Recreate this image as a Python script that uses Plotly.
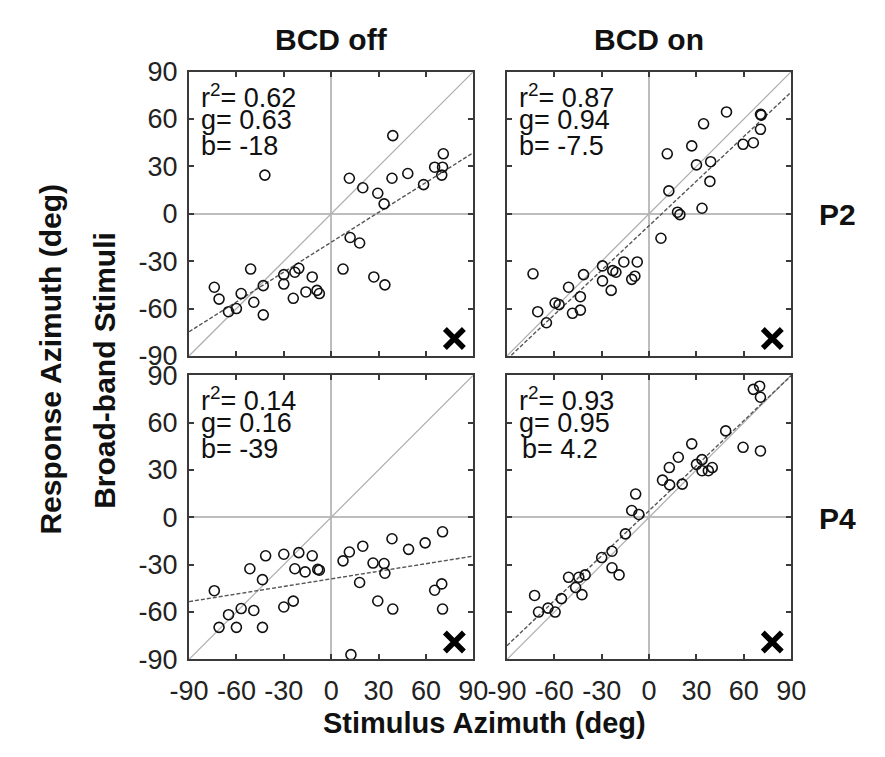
import plotly.graph_objects as go
from plotly.subplots import make_subplots

# ---------------- data ----------------
col_titles = ["BCD off", "BCD on"]
row_labels = ["P2", "P4"]
tick_vals = [-90, -60, -30, 0, 30, 60, 90]
tick_text = ["-90", "-60", "-30", "0", "30", "60", "90"]

TL_x = [-74, -71, -51, -57, -65, -60, -49, -43, -43, -30, -30, -24, -23, -20.5, -16, -12, -9, -7.5,
        -42, 7.5, 12, 18, 27, 34, 11.5, 20, 29.5, 33.5, 38.5, 39, 48.5, 58.5, 65.5, 70.5, 70, 71]
TL_y = [-46.5, -54, -35, -50.5, -62, -60, -56, -45.5, -64, -38.5, -44.5, -53.5, -37, -34.5, -49.5, -40,
        -48.5, -50.5, 24.5, -35, -15, -18.5, -40, -45, 22.5, 16.5, 13, 6.3, 22.5, 49.5, 25.5, 18.5,
        29.5, 29.5, 24.5, 38]

TR_x = [-73.5, -70.5, -65, -59.5, -57, -51, -48.5, -43.5, -43.5, -41.5, -29.5, -29.5, -24, -23, -21,
        -16, -11, -9, -7.5, 7.5, 11.5, 12.5, 18, 19.5, 27, 30, 34.5, 39, 38.5, 33.5, 49, 59.5, 66,
        70.5, 71, 70.5]
TR_y = [-38, -62, -69, -56.5, -57.5, -46.5, -63, -61, -52.5, -38.5, -33, -42.5, -48.5, -36, -37,
        -30.5, -41.5, -39.5, -30.5, -15.5, 38, 14.5, 1, -0.5, 43, 31, 57, 33, 20.5, 3.5, 64.5, 44,
        45, 53.5, 62.5, 63]

BL_x = [-74, -71, -65, -60, -57, -51.5, -49, -43.5, -43.5, -41.5, -30, -30, -24, -23, -20.5, -16.5,
        -12, -8.5, -7.5, 7.5, 11.5, 20, 12.5, 18, 26.5, 29.5, 33.5, 34, 38.5, 39, 49, 59.5, 65.5,
        70.5, 70, 70.5]
BL_y = [-46.5, -69.7, -61.7, -69.7, -57.8, -32.6, -59, -39.5, -69.7, -24.4, -23.4, -56.8, -53.1,
        -32.6, -22.4, -34.6, -24.4, -33, -33.5, -27.6, -22, -18.3, -87, -41.3, -29, -53, -29.3,
        -35.4, -13.6, -58.1, -20.3, -16.2, -46.2, -9.2, -42.2, -58.1]

BR_x = [-72.5, -70, -64, -59.5, -55.5, -51, -46.5, -44.5, -42.5, -40.5, -30, -23.5, -23.5, -19, -15,
        -11, -8.5, -6.5, 8.5, 12.8, 13, 18.5, 21, 27, 30, 33.5, 33.5, 37.5, 40, 48.5, 59.5, 66, 70,
        70.5, 70.5]
BR_y = [-49.5, -60, -57.5, -60, -51.5, -38, -44.5, -38, -49, -36.5, -25.5, -21.5, -32, -36.5, -10.5,
        4.3, 14.7, 1.8, 23.5, 31.5, 20.5, 38, 21, 46.5, 33.5, 36.5, 29.5, 29.5, 31.5, 54.7, 44.3, 81,
        83, 76, 42]

# fit statistics per panel (TL, TR, BL, BR)
r2_vals = ["0.62", "0.87", "0.14", "0.93"]
g_vals = [0.63, 0.94, 0.16, 0.95]
b_vals = [-18, -7.5, -39, 4.2]
b_text = ["-18", "-7.5", "-39", "4.2"]

marker_x = [78]
marker_y = [-79]

FONT = "Liberation Sans, Arial, Helvetica, sans-serif"

panels = [(1, 1, TL_x, TL_y), (1, 2, TR_x, TR_y), (2, 1, BL_x, BL_y), (2, 2, BR_x, BR_y)]

fig = make_subplots(rows=2, cols=2)

for i, (r, c, xs, ys) in enumerate(panels):
    # identity line
    fig.add_trace(go.Scatter(x=[-90, 90], y=[-90, 90], mode="lines",
                             line=dict(color="#b0b0b0", width=1.3), hoverinfo="skip",
                             showlegend=False), row=r, col=c)
    # regression line
    lx = [-90, 90]
    ly = [g_vals[i] * v + b_vals[i] for v in lx]
    fig.add_trace(go.Scatter(x=lx, y=ly, mode="lines",
                             line=dict(color="#555555", width=1.4, dash="4px,2px"),
                             hoverinfo="skip", showlegend=False), row=r, col=c)
    # data points
    fig.add_trace(go.Scatter(x=xs, y=ys, mode="markers",
                             marker=dict(symbol="circle-open", size=10, color="#111",
                                         line=dict(width=1.6, color="#111")),
                             showlegend=False), row=r, col=c)
    # X marker
    fig.add_trace(go.Scatter(x=marker_x, y=marker_y, mode="markers",
                             marker=dict(symbol="x-thin", size=19, color="#000",
                                         line=dict(width=5.5, color="#000")),
                             showlegend=False), row=r, col=c)

# domains
xdom = [[176 / 885, 472 / 885], [507 / 885, 803 / 885]]
ydom = [[1 - 355 / 757, 1 - 59 / 757], [1 - 671 / 757, 1 - 375 / 757]]

axis_common = dict(range=[-90, 90], tickvals=tick_vals, ticktext=tick_text,
                   showgrid=False, zeroline=True, zerolinecolor="#bdbdbd", zerolinewidth=1.5,
                   showline=True, linecolor="#3a3a3a", linewidth=2, mirror="ticks",
                   ticks="inside", ticklen=5, tickwidth=1.5, tickcolor="#3a3a3a",
                   tickfont=dict(family=FONT, size=27, color="#222"), fixedrange=True)

for i, (r, c, xs, ys) in enumerate(panels):
    idx = (r - 1) * 2 + c
    xa = "xaxis" if idx == 1 else f"xaxis{idx}"
    ya = "yaxis" if idx == 1 else f"yaxis{idx}"
    fig.layout[xa].update(domain=xdom[c - 1], showticklabels=(r == 2), ticklabelstandoff=6,
                          **axis_common)
    fig.layout[ya].update(domain=ydom[r - 1], showticklabels=(c == 1), ticklabelstandoff=4,
                          **axis_common)

ann = []
for i, (r, c, xs, ys) in enumerate(panels):
    idx = (r - 1) * 2 + c
    xr = "x domain" if idx == 1 else f"x{idx} domain"
    yr = "y domain" if idx == 1 else f"y{idx} domain"
    lines = ["r<sup>2</sup>= " + r2_vals[i], "g= " + str(g_vals[i]), "b= " + b_text[i]]
    offs = [25, 50, 77]
    for j, t in enumerate(lines):
        xo = 10 / 296 + (4 / 296 if (i == 3 and j == 2) else 0)
        ann.append(dict(x=xo, y=1 - offs[j] / 296, xref=xr, yref=yr, text=t,
                        showarrow=False, xanchor="left", yanchor="middle",
                        font=dict(family=FONT, size=27, color="#111")))

for k, t in enumerate(col_titles):
    ann.append(dict(x=[324, 655][k] / 885, y=1 - 26 / 757, xref="paper", yref="paper",
                    text="<b>" + t + "</b>", showarrow=False, xanchor="center", yanchor="middle",
                    font=dict(family=FONT, size=30, color="#111")))
for k, t in enumerate(row_labels):
    ann.append(dict(x=851 / 885, y=1 - [208, 524][k] / 757, xref="paper", yref="paper",
                    text="<b>" + t + "</b>", showarrow=False, xanchor="center", yanchor="middle",
                    font=dict(family=FONT, size=30, color="#111")))

ann.append(dict(x=32 / 885, y=1 - 358 / 757, xref="paper", yref="paper",
                text="<b>Response Azimuth (deg)</b>", textangle=-90, showarrow=False,
                xanchor="center", yanchor="middle", font=dict(family=FONT, size=30, color="#111")))
ann.append(dict(x=88 / 885, y=1 - 370 / 757, xref="paper", yref="paper",
                text="<b>Broad-band Stimuli</b>", textangle=-90, showarrow=False,
                xanchor="center", yanchor="middle", font=dict(family=FONT, size=30, color="#111")))
ann.append(dict(x=484 / 885, y=1 - 737 / 757, xref="paper", yref="paper",
                text="<b>Stimulus Azimuth (deg)</b>", showarrow=False,
                xanchor="center", yanchor="middle", font=dict(family=FONT, size=29, color="#111")))

fig.update_layout(width=885, height=757, margin=dict(l=0, r=0, t=0, b=0),
                  paper_bgcolor="white", plot_bgcolor="white", annotations=ann,
                  showlegend=False, font=dict(family=FONT))

fig.write_html("out.html")
